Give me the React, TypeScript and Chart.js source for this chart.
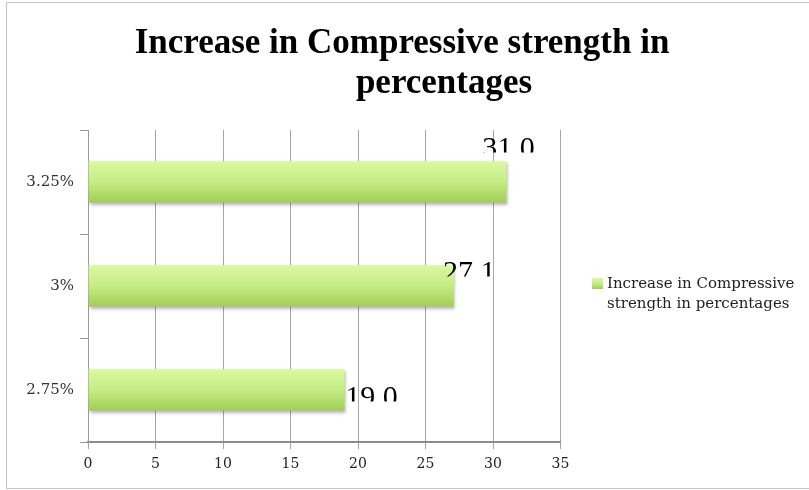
import React, { useEffect, useRef } from "react";
import { Chart, registerables } from "chart.js";

Chart.register(...registerables);

const categories = ["3.25%", "3%", "2.75%"];
const values = [31.0, 27.1, 19.0];
const valueLabels = ["31.0", "27.1", "19.0"];
const seriesName = "Increase in Compressive strength in percentages";
const legendLines = ["Increase in Compressive", "strength in percentages"];
const titleLines = ["Increase in Compressive strength in", "percentages"];
const xMin = 0;
const xMax = 35;
const xStep = 5;

// label placement tweaks (style, not data)
const labelDx = [2, 15.5, 27];
const labelClipDy = [-29.5, -9.5, 11.5];

function barGradient(ctx: CanvasRenderingContext2D, top: number, bottom: number) {
  const g = ctx.createLinearGradient(0, top, 0, bottom);
  g.addColorStop(0, "#daf8a4");
  g.addColorStop(0.5, "#c6ec84");
  g.addColorStop(1, "#a2cd56");
  return g;
}

const decorPlugin = {
  id: "decor",
  beforeDatasetsDraw(chart: any) {
    const ctx = chart.ctx;
    ctx.save();
    ctx.shadowColor = "rgba(0,0,0,0.28)";
    ctx.shadowBlur = 3;
    ctx.shadowOffsetX = 1;
    ctx.shadowOffsetY = 2;
  },
  afterDatasetsDraw(chart: any) {
    chart.ctx.restore();
  },
  afterDraw(chart: any) {
    const ctx: CanvasRenderingContext2D = chart.ctx;
    // Title
    ctx.save();
    ctx.fillStyle = "#000";
    ctx.font = "bold 35px 'Liberation Serif'";
    ctx.textAlign = "center";
    ctx.textBaseline = "alphabetic";
    ctx.fillText(titleLines[0], 402, 53);
    ctx.fillText(titleLines[1], 444, 93);
    ctx.restore();

    // Value labels (clipped just above baseline like the reference)
    const meta = chart.getDatasetMeta(0);
    meta.data.forEach((el: any, i: number) => {
      const clipY = el.y + labelClipDy[i];
      ctx.save();
      ctx.beginPath();
      ctx.rect(0, 0, chart.width, clipY);
      ctx.clip();
      ctx.fillStyle = "#000";
      ctx.font = "30px 'Liberation Serif'";
      ctx.textAlign = "center";
      ctx.textBaseline = "alphabetic";
      ctx.fillText(valueLabels[i], el.x + labelDx[i], clipY + 4);
      ctx.restore();
    });

    // Legend
    const lx = 592;
    const ly = 278;
    ctx.save();
    ctx.fillStyle = barGradient(ctx, ly, ly + 11);
    ctx.fillRect(lx, ly, 11, 11);
    ctx.fillStyle = "#222";
    ctx.font = "15px 'DejaVu Serif'";
    ctx.textAlign = "left";
    ctx.textBaseline = "middle";
    legendLines.forEach((t, i) => ctx.fillText(t, 607, 284 + i * 20));
    ctx.restore();
  },
};

export default function App() {
  const ref = useRef<HTMLCanvasElement>(null);
  useEffect(() => {
    const canvas = ref.current!;
    const chart = new Chart(canvas, {
      type: "bar",
      data: {
        labels: categories,
        datasets: [
          {
            label: seriesName,
            data: values,
            barPercentage: 0.4,
            categoryPercentage: 1.0,
            backgroundColor: (c: any) => {
              const ch = c.chart;
              const ys = ch.scales && ch.scales.y;
              if (!ys || !ch.chartArea) return "#c6ec84";
              const center = ys.getPixelForValue(c.dataIndex);
              const h = (ys.height / categories.length) * 0.4;
              return barGradient(ch.ctx, center - h / 2, center + h / 2);
            },
            borderWidth: 0,
          },
        ],
      },
      options: {
        indexAxis: "y",
        animation: false,
        responsive: false,
        layout: { padding: { left: 0, top: 130, right: 248.5, bottom: 0 } },
        plugins: {
          legend: { display: false },
          title: { display: false },
          tooltip: { enabled: false },
        },
        scales: {
          x: {
            min: xMin,
            max: xMax,
            ticks: {
              stepSize: xStep,
              color: "#222",
              font: { family: "'DejaVu Serif'", size: 14 },
              padding: 7,
            },
            grid: { color: "#a6a6a6", lineWidth: 1, tickLength: 7, drawTicks: true },
            border: { display: true, color: "#8c8c8c", width: 2 },
            afterFit: (s: any) => {
              s.height = 48;
            },
          },
          y: {
            ticks: {
              color: "#333",
              font: { family: "'DejaVu Serif'", size: 15 },
              padding: 6,
            },
            grid: {
              offset: true,
              drawOnChartArea: false,
              drawTicks: true,
              tickLength: 8,
              color: "#999",
            },
            border: { display: true, color: "#999", width: 1 },
            afterFit: (s: any) => {
              s.width = 88;
            },
          },
        },
      },
      plugins: [decorPlugin],
    });
    return () => chart.destroy();
  }, []);

  return (
    <div
      style={{
        position: "fixed",
        left: 0,
        top: 0,
        width: 809,
        height: 490,
        overflow: "hidden",
        background: "#fff",
      }}
    >
      <div
        style={{
          position: "absolute",
          left: 6,
          top: 2,
          width: 900,
          height: 485,
          border: "1px solid #c4c4c4",
        }}
      />
      <canvas
        ref={ref}
        width={809}
        height={490}
        style={{ position: "absolute", left: 0, top: 0, width: 809, height: 490 }}
      />
    </div>
  );
}
